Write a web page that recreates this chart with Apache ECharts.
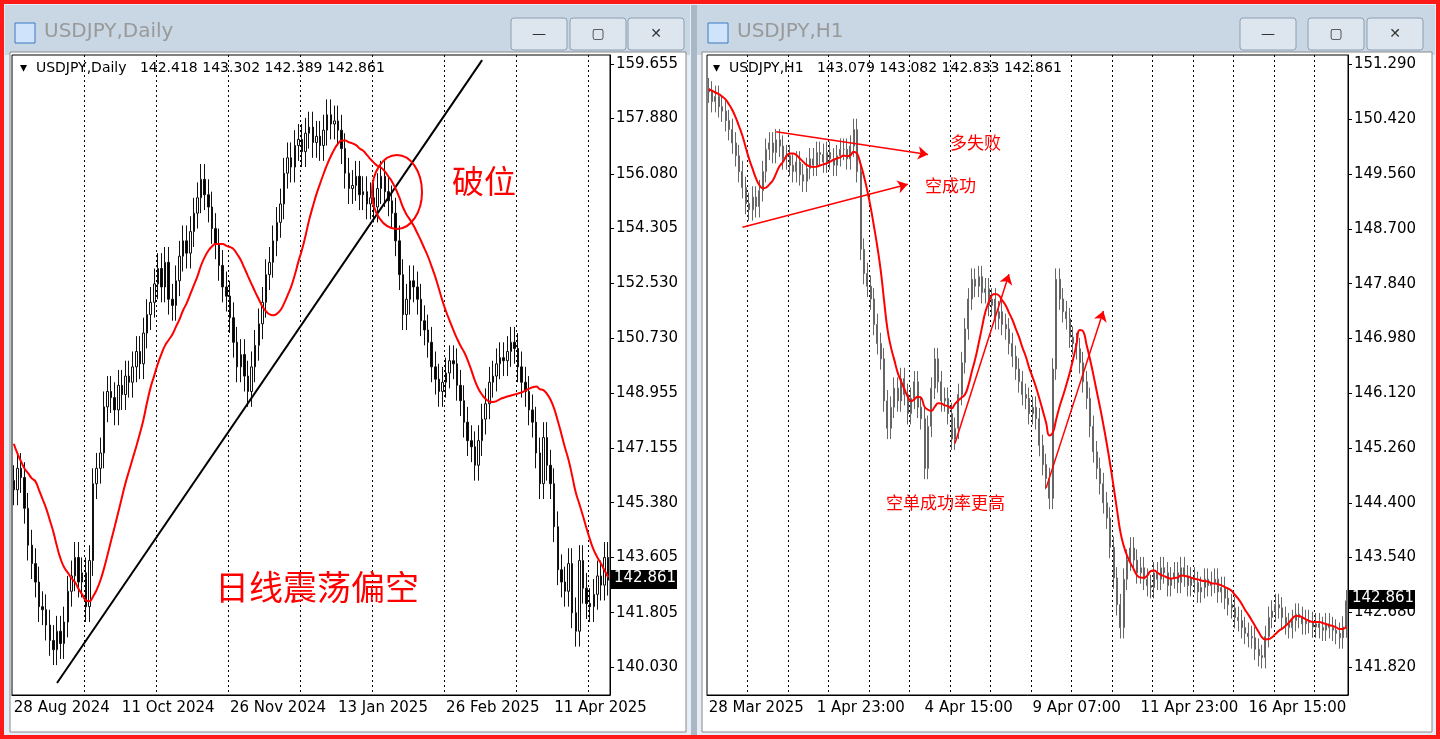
<!DOCTYPE html>
<html>
<head>
<meta charset="utf-8">
<script src="https://cdn.jsdelivr.net/npm/echarts@6/dist/echarts.min.js"></script>
<style>
  html, body { margin: 0; padding: 0; background: #fff; }
  #chart { width: 1440px; height: 739px; }
</style>
</head>
<body>
<div id="chart"></div>
<script>
// 日线 收盘价 (28 Aug 2024 起)
const dailyPre = [155.5,154.0,153.8,152.9,151.9,150.6,149.2,146.6,146.2,144.4,146.8,147.0,146.6,147.3,147.2,149.2,147.6,146.3,145.3,146.1];
const dailyCloses = [
  145.8,146.5,146.2,145.2,144.0,143.4,142.8,142.0,141.9,141.4,
  140.9,140.6,141.2,140.8,141.5,142.5,143.0,143.6,142.8,143.1,
  142.0,143.5,146.0,146.5,147.0,148.5,149.0,148.8,148.4,149.2,
  148.9,149.5,149.3,149.8,150.3,149.9,150.9,151.5,151.9,152.5,
  153.0,152.4,153.2,152.0,151.8,152.6,153.4,153.9,153.5,154.2,
  154.8,155.3,155.9,155.4,155.0,154.3,153.8,153.1,152.4,152.1,
  151.4,150.6,149.8,150.2,149.5,149.0,149.8,150.5,151.2,151.9,
  152.8,153.2,153.9,154.5,155.1,156.1,156.6,156.3,157.0,157.2,
  156.8,157.4,157.6,157.1,157.3,157.0,157.5,158.0,157.7,157.8,
  157.5,156.9,156.1,155.6,155.7,156.0,155.4,155.5,155.1,155.3,
  155.0,155.6,156.0,155.5,155.2,154.8,153.9,152.8,151.5,152.0,
  152.6,152.4,152.0,151.3,151.0,150.6,149.8,149.4,149.0,149.3,
  149.6,150.0,149.9,149.2,148.7,148.0,147.4,147.2,146.6,147.4,
  148.1,148.6,149.3,149.5,149.9,150.1,150.0,150.3,150.6,150.4,
  149.8,149.3,149.0,148.4,148.0,147.0,146.0,147.5,146.6,146.0,
  144.6,143.2,142.8,142.5,143.4,141.8,141.2,143.5,142.6,142.1,
  142.0,142.4,143.0,142.7,143.6,142.861
];
const dailyTickIdx = [0, 30, 60, 90, 120, 150];
const dailyTickLabels = ['28 Aug 2024','11 Oct 2024','26 Nov 2024','13 Jan 2025','26 Feb 2025','11 Apr 2025'];
const dailyYTicks = [159.655,157.880,156.080,154.305,152.530,150.730,148.955,147.155,145.380,143.605,141.805,140.030];

// H1 收盘价 (28 Mar 2025 起)
const h1Pre = [151.0,150.95,150.9,151.05,150.85,150.9,150.8,150.95,150.85,150.9];
const h1Closes = [
  150.85,150.70,150.78,150.62,150.55,150.40,150.26,150.05,149.85,149.60,
  149.35,149.10,149.00,149.20,149.05,149.30,149.60,149.95,150.05,149.90,
  150.10,150.00,149.80,149.85,149.70,149.60,149.75,149.55,149.45,149.65,
  149.80,149.70,149.90,149.87,149.75,149.90,149.80,149.70,149.85,149.95,
  149.95,149.80,150.00,150.26,149.60,148.38,148.00,147.80,147.60,147.20,
  146.90,146.66,146.00,145.57,145.90,146.20,146.00,146.35,146.10,145.80,
  146.04,146.30,145.90,145.72,144.94,145.60,146.20,146.66,146.30,146.00,
  146.04,145.80,145.40,145.57,146.10,146.60,147.13,147.60,147.91,147.80,
  147.95,147.70,147.76,147.50,147.60,147.29,147.40,147.20,147.13,146.90,
  146.70,146.50,146.30,146.10,146.04,145.80,145.90,145.72,145.30,145.00,
  144.78,144.47,146.50,147.91,147.60,147.40,147.29,147.00,146.90,146.82,
  146.60,146.30,146.04,145.60,145.20,144.94,144.70,144.40,144.16,143.70,
  143.22,142.80,142.44,143.20,143.50,143.69,143.50,143.30,143.38,143.20,
  143.10,143.07,143.30,143.20,143.38,143.30,143.10,143.22,143.30,143.15,
  143.38,143.25,143.10,143.22,143.15,143.00,143.07,143.20,143.10,143.15,
  143.20,143.00,143.07,142.90,142.80,142.75,142.60,142.55,142.44,142.35,
  142.30,142.28,142.10,142.00,141.97,142.30,142.60,142.70,142.80,142.75,
  142.60,142.50,142.44,142.55,142.65,142.60,142.50,142.55,142.52,142.45,
  142.50,142.44,142.40,142.50,142.44,142.40,142.35,142.28,142.45,142.861
];
const h1TickIdx = [0, 32, 64, 96, 128, 160];
const h1TickLabels = ['28 Mar 2025','1 Apr 23:00','4 Apr 15:00','9 Apr 07:00','11 Apr 23:00','16 Apr 15:00'];
const h1YTicks = [151.290,150.420,149.560,148.700,147.840,146.980,146.120,145.260,144.400,143.540,142.680,141.820];

const lastPrice = 142.861;

// open = 前一根收盘
function toOHLC(pre, closes, wick) {
  let prev = pre[pre.length - 1];
  return closes.map(c => {
    const o = prev; prev = c;
    return [o, c, Math.min(o, c) - wick, Math.max(o, c) + wick];
  });
}
function sma(pre, closes, n) {
  const all = pre.concat(closes);
  return closes.map((_, i) => {
    const end = pre.length + i + 1;
    const s = all.slice(end - n, end);
    return +(s.reduce((a, b) => a + b, 0) / s.length).toFixed(3);
  });
}

const dailyCats = dailyCloses.map((_, i) => String(i));
const h1Cats = h1Closes.map((_, i) => String(i));

const chart = echarts.init(document.getElementById('chart'));

const font = 'Tahoma, "DejaVu Sans", sans-serif';
const cjk = '"Noto Sans CJK SC", sans-serif';

function xAxisFor(gridIndex, cats, tickIdx, tickLabels, splitEvery) {
  return {
    type: 'category', gridIndex, data: cats, boundaryGap: true,
    axisLine: { lineStyle: { color: '#000' } },
    axisTick: { show: false },
    axisLabel: {
      interval: (i) => tickIdx.includes(i),
      formatter: (v, i) => tickLabels[tickIdx.indexOf(+v)] || '',
      color: '#000', fontFamily: font, fontSize: 15, align: 'left', margin: 6
    },
    splitLine: {
      show: true, interval: (i) => i % splitEvery === 0 && i > 0,
      lineStyle: { color: '#000', type: [2, 3], width: 1 }
    }
  };
}
function yAxisFor(gridIndex, min, max, ticks) {
  return {
    type: 'value', gridIndex, position: 'right', min, max, scale: true,
    axisLine: { show: true, lineStyle: { color: '#000' } },
    axisTick: { show: true, customValues: ticks, length: 4, lineStyle: { color: '#000' } },
    axisLabel: {
      customValues: ticks, formatter: v => v.toFixed(3),
      color: '#000', fontFamily: font, fontSize: 15, margin: 6
    },
    splitLine: { show: false }
  };
}

const candleStyle = (up, down, border) => ({
  color: up, color0: down, borderColor: border, borderColor0: border, borderWidth: 1
});

chart.setOption({
  animation: false,
  backgroundColor: '#fff',
  grid: [
    { left: 12, top: 55, right: 830, bottom: 44, show: true, backgroundColor: '#fff', borderColor: '#000', borderWidth: 1 },
    { left: 707, top: 55, right: 92, bottom: 44, show: true, backgroundColor: '#fff', borderColor: '#000', borderWidth: 1 }
  ],
  xAxis: [
    xAxisFor(0, dailyCats, dailyTickIdx, dailyTickLabels, 20),
    xAxisFor(1, h1Cats, h1TickIdx, h1TickLabels, 12)
  ],
  yAxis: [
    yAxisFor(0, 139.126, 159.945, dailyYTicks),
    yAxisFor(1, 141.382, 151.431, h1YTicks)
  ],
  series: [
    {
      type: 'candlestick', xAxisIndex: 0, yAxisIndex: 0, barWidth: 2,
      data: toOHLC(dailyPre, dailyCloses, 0.5),
      itemStyle: candleStyle('#fff', '#000', '#111'),
      markLine: {
        silent: true, symbol: 'none',
        data: [
          [{ coord: ['12', 139.516], lineStyle: { color: '#000', width: 2, type: 'solid' } },
           { coord: ['130', 159.78] }],
          [{ yAxis: lastPrice, lineStyle: { color: '#bbb', width: 1, type: 'solid' } },
           { yAxis: lastPrice }]
        ],
        label: { show: false }
      }
    },
    {
      type: 'line', xAxisIndex: 0, yAxisIndex: 0, data: sma(dailyPre, dailyCloses, 17),
      showSymbol: false, smooth: true, lineStyle: { color: '#f00', width: 2 }, z: 5
    },
    {
      type: 'candlestick', xAxisIndex: 1, yAxisIndex: 1, barWidth: 1.5,
      data: toOHLC(h1Pre, h1Closes, 0.17),
      itemStyle: candleStyle('#fff', '#666', '#666'),
      markLine: {
        silent: true, symbol: ['none', 'arrow'], symbolSize: 10,
        label: { show: false },
        data: [
          [{ coord: ['20', 150.227], lineStyle: { color: '#f00', width: 1.5, type: 'solid' } }, { coord: ['65', 149.87] }],
          [{ coord: ['10', 148.726], lineStyle: { color: '#f00', width: 1.5, type: 'solid' } }, { coord: ['59', 149.40] }],
          [{ coord: ['73', 145.33], lineStyle: { color: '#f00', width: 1.5, type: 'solid' } }, { coord: ['89', 147.99] }],
          [{ coord: ['100', 144.63], lineStyle: { color: '#f00', width: 1.5, type: 'solid' } }, { coord: ['117', 147.41] }],
          [{ yAxis: lastPrice, symbol: 'none', lineStyle: { color: '#bbb', width: 1, type: 'solid' } }, { yAxis: lastPrice, symbol: 'none' }]
        ]
      }
    },
    {
      type: 'line', xAxisIndex: 1, yAxisIndex: 1, data: sma(h1Pre, h1Closes, 9),
      showSymbol: false, smooth: true, lineStyle: { color: '#f00', width: 2 }, z: 5
    }
  ],
  graphic: [
    // 外框
    { type: 'rect', z: -10, shape: { x: 0, y: 0, width: 1440, height: 739 }, style: { fill: '#e8eef5' } },
    { type: 'rect', z: 100, shape: { x: 2, y: 2, width: 1436, height: 735 }, style: { fill: 'none', stroke: '#ff1a1a', lineWidth: 4 } },
    { type: 'rect', z: -9, shape: { x: 5, y: 5, width: 685, height: 50 }, style: { fill: '#c9d7e5' } },
    { type: 'rect', z: -9, shape: { x: 697, y: 5, width: 738, height: 50 }, style: { fill: '#c9d7e5' } },
    { type: 'rect', z: -9, shape: { x: 691, y: 5, width: 6, height: 730 }, style: { fill: '#aab8c6' } },
    { type: 'rect', z: -8, shape: { x: 10, y: 52, width: 676, height: 680 }, style: { fill: '#fff', stroke: '#888' } },
    { type: 'rect', z: -8, shape: { x: 702, y: 52, width: 730, height: 680 }, style: { fill: '#fff', stroke: '#888' } },
    { type: 'text', left: 44, top: 22, style: { text: 'USDJPY,Daily', font: '20px ' + font, fill: '#999' } },
    { type: 'text', left: 737, top: 22, style: { text: 'USDJPY,H1', font: '20px ' + font, fill: '#999' } },
    { type: 'rect', shape: { x: 15, y: 23, width: 20, height: 20 }, style: { fill: '#cfe4fb', stroke: '#3a78c0' } },
    { type: 'rect', shape: { x: 708, y: 23, width: 20, height: 20 }, style: { fill: '#cfe4fb', stroke: '#3a78c0' } },
    // 窗口按钮
    ...[[511, 18], [570, 18], [628, 18], [1240, 18], [1308, 18], [1367, 18]].map(([x, y], i) => ({
      type: 'group', children: [
        { type: 'rect', shape: { x, y, width: 56, height: 32, r: 3 }, style: { fill: '#dde6ef', stroke: '#8e9eb0' } },
        { type: 'text', style: { x: x + 28, y: y + 16, text: ['—', '▢', '✕'][i % 3], font: '14px ' + font, fill: '#333', align: 'center', verticalAlign: 'middle' } }
      ]
    })),
    // 标题行
    { type: 'text', left: 20, top: 61, style: { text: '▾  USDJPY,Daily   142.418 143.302 142.389 142.861', font: '14px ' + font, fill: '#000' } },
    { type: 'text', left: 713, top: 61, style: { text: '▾  USDJPY,H1   143.079 143.082 142.833 142.861', font: '14px ' + font, fill: '#000' } },
    // 当前价标签
    { type: 'rect', z: 50, shape: { x: 611, y: 570, width: 66, height: 19 }, style: { fill: '#000' } },
    { type: 'text', z: 51, left: 614, top: 571, style: { text: '142.861', font: '15px ' + font, fill: '#fff' } },
    { type: 'rect', z: 50, shape: { x: 1349, y: 590, width: 66, height: 19 }, style: { fill: '#000' } },
    { type: 'text', z: 51, left: 1352, top: 591, style: { text: '142.861', font: '15px ' + font, fill: '#fff' } },
    // 注释
    { type: 'ellipse', z: 20, shape: { cx: 397, cy: 192, rx: 25, ry: 37 }, style: { fill: 'none', stroke: '#f00', lineWidth: 2 } },
    { type: 'text', z: 20, left: 452, top: 165, style: { text: '破位', font: '32px ' + cjk, fill: '#f00' } },
    { type: 'text', z: 20, left: 215, top: 570, style: { text: '日线震荡偏空', font: '34px ' + cjk, fill: '#f00' } },
    { type: 'text', z: 20, left: 950, top: 134, style: { text: '多失败', font: '17px ' + cjk, fill: '#f00' } },
    { type: 'text', z: 20, left: 925, top: 177, style: { text: '空成功', font: '17px ' + cjk, fill: '#f00' } },
    { type: 'text', z: 20, left: 886, top: 494, style: { text: '空单成功率更高', font: '17px ' + cjk, fill: '#f00' } }
  ]
});
</script>
</body>
</html>
